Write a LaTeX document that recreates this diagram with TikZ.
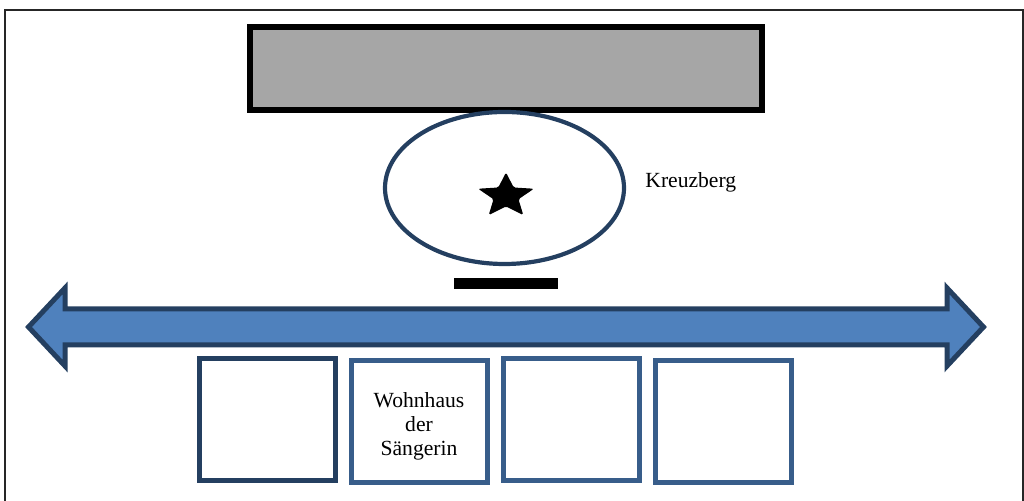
\documentclass[tikz,border=0pt]{standalone}
\usepackage{fontspec}
\setmainfont{Liberation Serif}
\usetikzlibrary{shapes.geometric}
\definecolor{dunkelblau}{HTML}{243F60}
\definecolor{hausblau}{HTML}{385D8A}
\definecolor{pfeilblau}{HTML}{4F81BD}
\definecolor{dachgrau}{HTML}{A6A6A6}

\begin{document}
\begin{tikzpicture}[x=0.5pt, y=-0.5pt,
    haus/.style={rectangle, draw=hausblau, line width=2.5pt, minimum width=68pt, minimum height=61pt, inner sep=0pt},
    schrift/.style={inner sep=0pt, align=center, font=\fontsize{10.8}{12}\selectfont}]
    \useasboundingbox (0,0) rectangle (1024,501);
    % Draw the frame
    \draw[line width=1pt, black!85] (5,501) |- (1022.5,10) -- (1022.5,501);
    % Draw the grey block on top
    \draw[line width=3pt, fill=dachgrau] (250,27) rectangle (762,110);
    % the ellipse with the star
    \node at (504.5,188) [ellipse, draw=dunkelblau, line width=2.1pt, minimum width=119.5pt, minimum height=76pt, inner sep=0pt] (platz) {};
    \begin{scope}[shift={(506,196)}, xscale=1.25]
        \fill[rounded corners=0.8pt] (-90:23.5) -- (-54:10.5) -- (-18:23.5) -- (18:10.5) -- (54:23.5) -- (90:10.5) -- (126:23.5) -- (162:10.5) -- (198:23.5) -- (234:10.5) -- cycle;
    \end{scope}
    \node at (645,188) [schrift, anchor=base west] (kreuzberg) {Kreuzberg};
    % black bar below the ellipse
    \fill (454,278) rectangle (558,289);
    % Draw the double arrow (street)
    \draw[line width=2.5pt, draw=dunkelblau, fill=pfeilblau] (28.5,327) -- (65,288) -- (65,309) -- (947,309) -- (947,288) -- (983.5,327) -- (947,366) -- (947,345) -- (65,345) -- (65,366) -- cycle;
    % the houses
    \node at (267.5,420) [haus, draw=dunkelblau] (haus1) {};
    \node at (419.5,421.5) [haus] (haus2) {};
    \node at (571.5,420) [haus] (haus3) {};
    \node at (723.5,422) [haus] (haus4) {};
    \node at (419,426) [schrift] (saengerin) {Wohnhaus\\der\\Sängerin};
\end{tikzpicture}
\end{document}
